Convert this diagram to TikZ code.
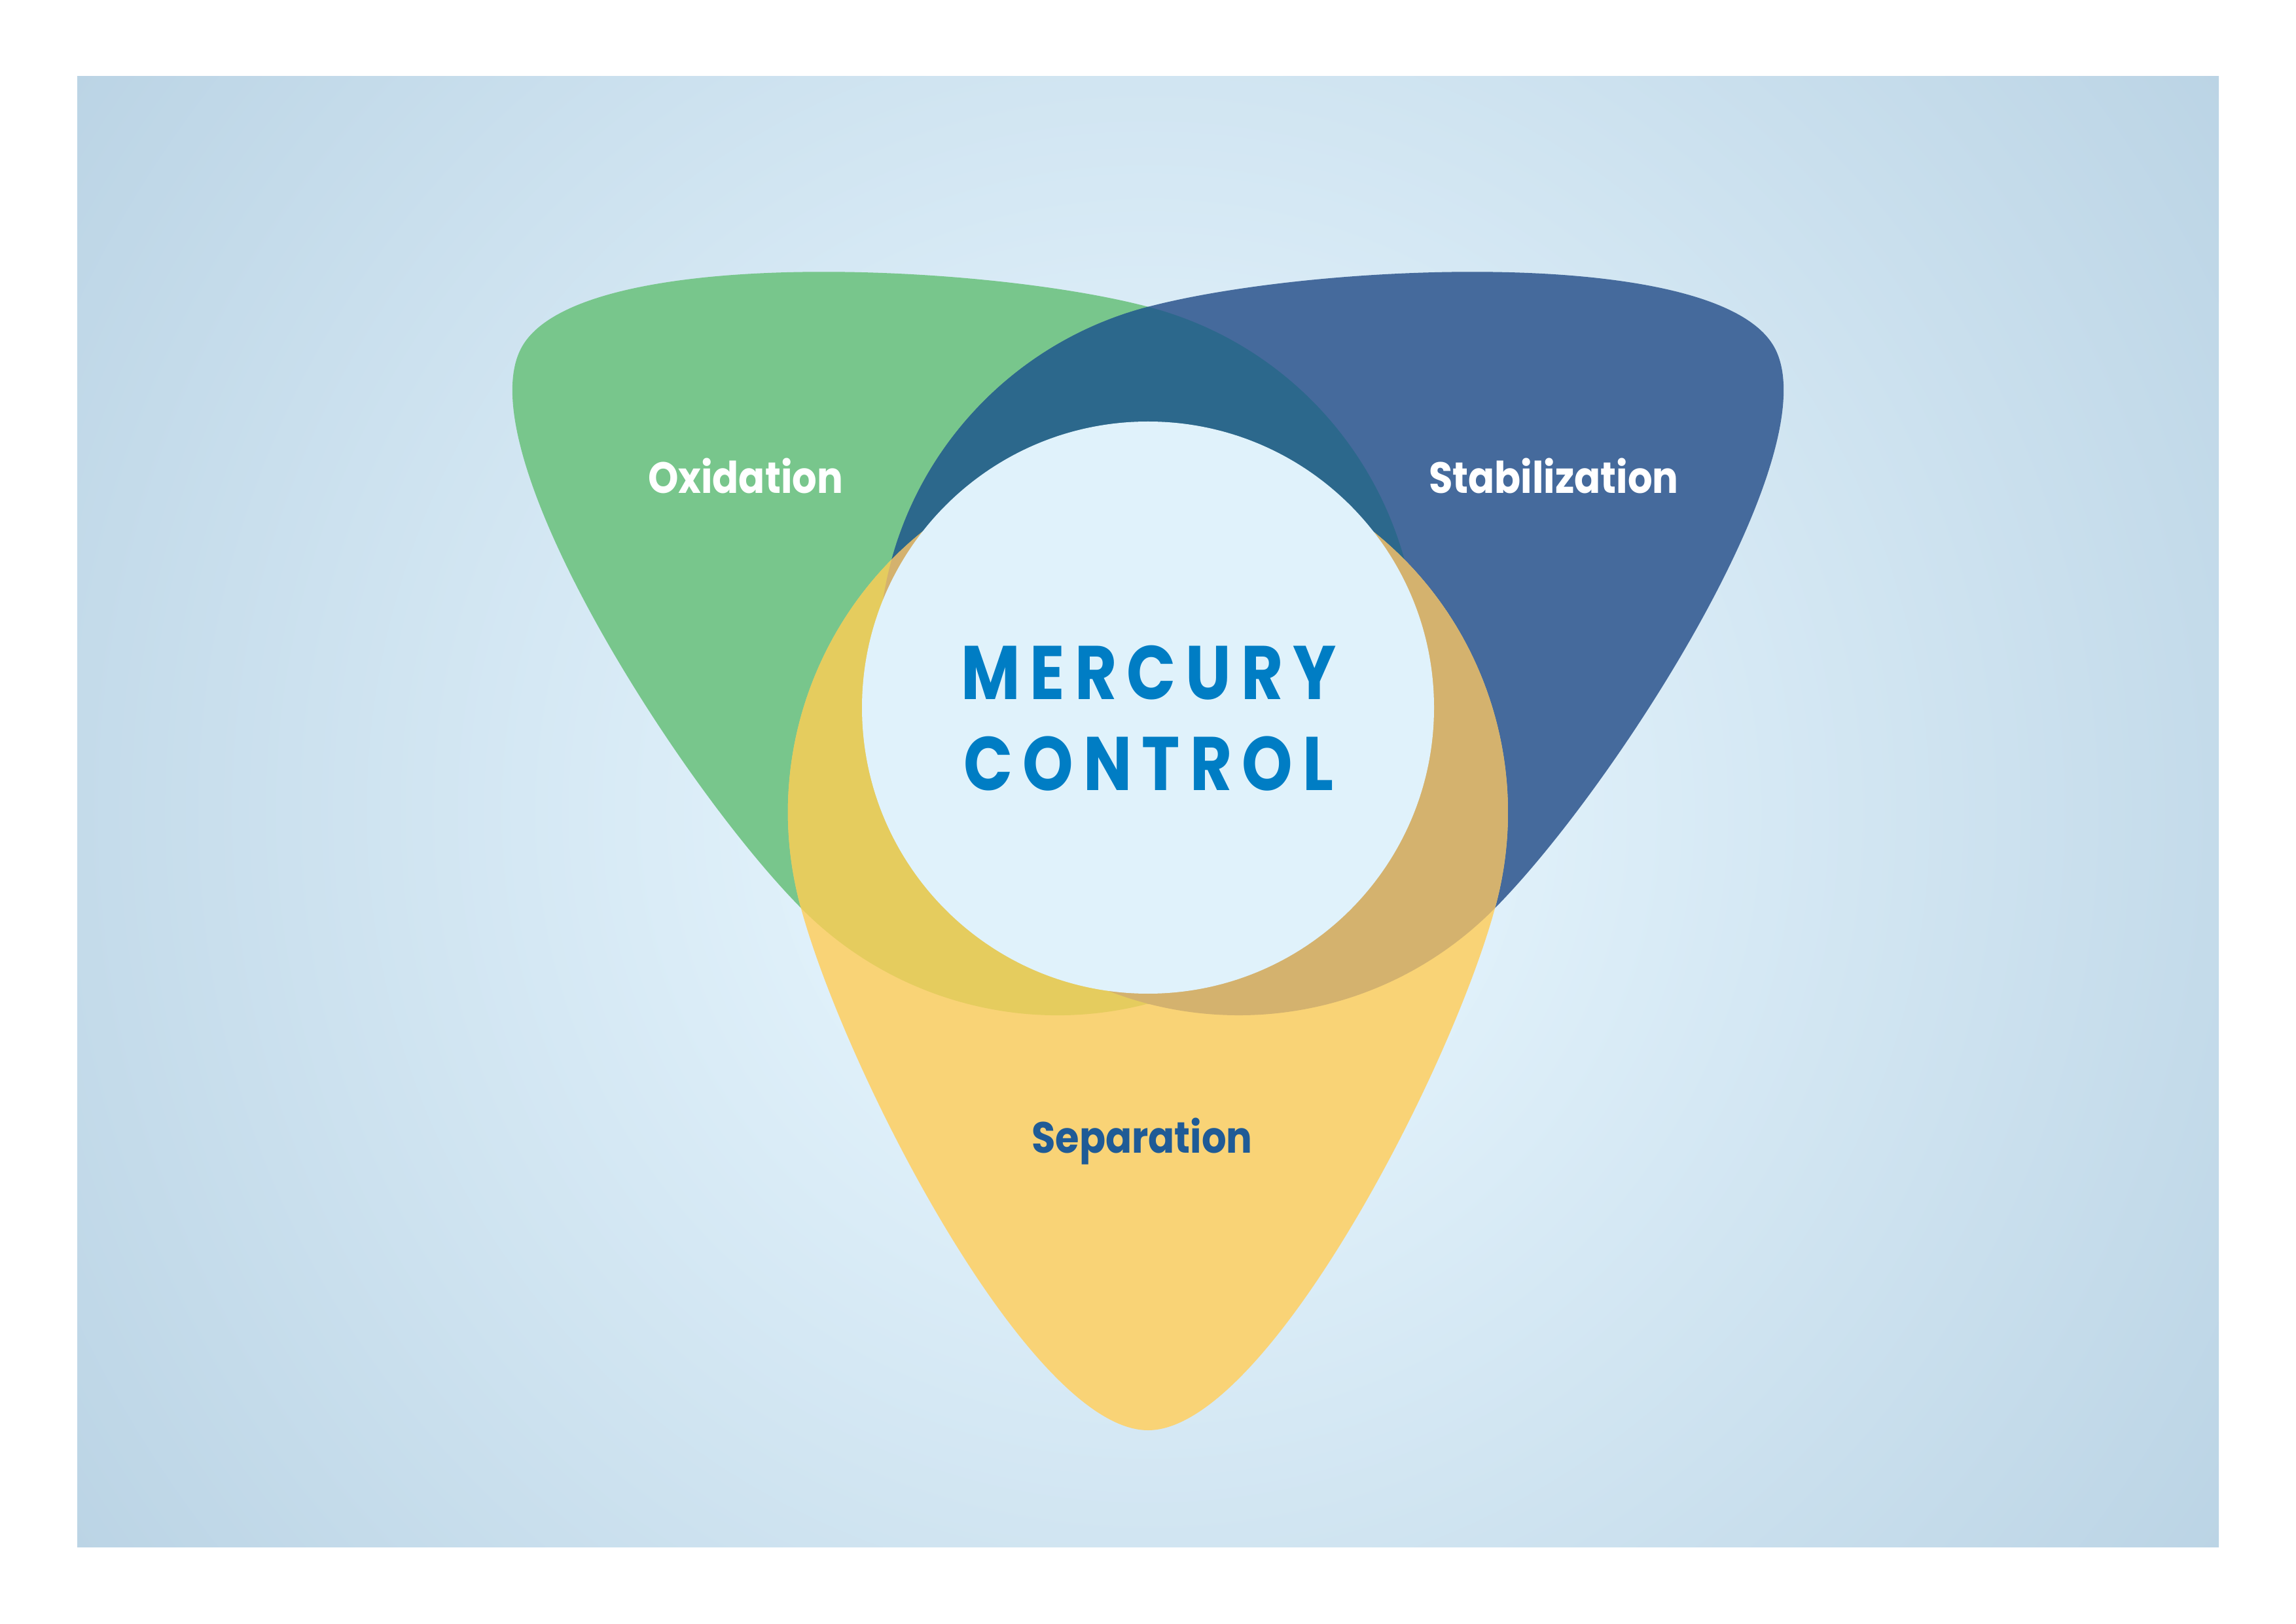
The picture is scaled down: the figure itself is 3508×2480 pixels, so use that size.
\documentclass[tikz,border=0pt]{standalone}
\usepackage{fontspec}
\newfontfamily\labelfont{Poppins}[UprightFont=* Bold, FakeStretch=0.885]
\newfontfamily\titlefont{Poppins}[UprightFont=* Bold, FakeStretch=0.85, LetterSpace=13]
\definecolor{bgin}{HTML}{E3F3FC}
\definecolor{bgout}{HTML}{BBD4E5}
\definecolor{greenc}{HTML}{78C68C}
\definecolor{bluec}{HTML}{456A9C}
\definecolor{yellowc}{HTML}{F9D376}
\definecolor{tealc}{HTML}{2C688C}
\definecolor{gyc}{HTML}{E5CC5E}
\definecolor{byc}{HTML}{D4B26E}
\definecolor{circc}{HTML}{E0F2FB}
\definecolor{titlec}{HTML}{007DC4}
\definecolor{sepc}{HTML}{1F5B96}
\pgfdeclareradialshading{bgshade}{\pgfpoint{0bp}{0bp}}{color(0bp)=(bgin); color(5bp)=(bgin); color(25bp)=(bgout); color(50bp)=(bgout)}
\begin{document}
\begin{tikzpicture}[x=0.01cm,y=0.01cm,
  petalshape/.style={insert path={(-531.3,-302.35) arc[start angle=195,end angle=-15,radius=550]
     .. controls (464,-553.5) and (180,-1104) .. (0,-1104)
     .. controls (-180,-1104) and (-464,-553.5) .. cycle}},
  green petal/.style={shift={(1754,1399)},rotate=-120,petalshape},
  blue petal/.style={shift={(1754,1399)},rotate=120,petalshape},
  yellow petal/.style={shift={(1754,1399)},petalshape},
  lbl/.style={anchor=base,inner sep=0pt,font=\labelfont\fontsize{19}{23}\selectfont},
  ttl/.style={anchor=base,inner sep=0pt,text=titlec,font=\titlefont\fontsize{33}{40}\selectfont}]
\useasboundingbox (0,0) rectangle (3508,2480);
\fill[white] (0,0) rectangle (3508,2480);
\begin{scope}
  \clip (118,117) rectangle (3390,2363);
  \shade[shading=bgshade] (-236,-750) rectangle (3744,3230);
\end{scope}
\fill[greenc, green petal];
\fill[bluec, blue petal];
\fill[yellowc, yellow petal];
\begin{scope}
  \clip[green petal];
  \fill[tealc, blue petal];
\end{scope}
\begin{scope}
  \clip[green petal];
  \fill[gyc, yellow petal];
\end{scope}
\begin{scope}
  \clip[blue petal];
  \fill[byc, yellow petal];
\end{scope}
\fill[circc] (1754,1399) circle[radius=437];
\node[lbl,text=white] (ox) at (1139,1726) {Oxidation};
\node[lbl,text=white] (st) at (2374,1726) {Stabilization};
\node[lbl,text=sepc] (sep) at (1745,719) {Separation};
\node[ttl] (t1) at (1755,1411) {MERCURY};
\node[ttl] (t2) at (1755,1272) {CONTROL};
\end{tikzpicture}
\end{document}
